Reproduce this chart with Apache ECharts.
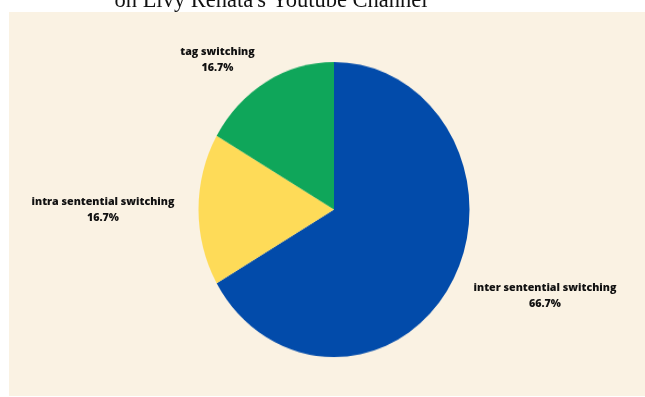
<!DOCTYPE html>
<html>
<head>
<meta charset="utf-8">
<script src="https://cdn.jsdelivr.net/npm/echarts@6/dist/echarts.min.js"></script>
<style>
  html, body { margin: 0; padding: 0; background: #ffffff; }
  #wrap { position: relative; width: 645px; height: 397px; overflow: hidden; }
  #panel { position: absolute; left: 9px; top: 12px; width: 636px; height: 384px; background: #FAF2E3; }
  #pie, #labels { position: absolute; left: 0; top: 0; width: 645px; height: 397px; }
  #pie { transform-origin: 334px 209.5px; transform: scaleY(1.0886); }
</style>
</head>
<body>
<div id="wrap">
  <div id="panel"></div>
  <div id="pie"></div>
  <div id="labels"></div>
</div>
<script>
// ---- data ----
var categories = ['inter sentential switching', 'intra sentential switching', 'tag switching'];
var counts = [4, 1, 1];
var colors = ['#024BAA', '#FEDB58', '#0FA65A'];
var titleText = "on Livy Renata's Youtube Channel";

var total = counts.reduce(function (a, b) { return a + b; }, 0);
var seriesData = categories.map(function (c, i) {
  return { name: c, value: counts[i], itemStyle: { color: colors[i] } };
});
var labelSeriesData = categories.map(function (c, i) {
  return { name: c, value: counts[i] };
});

var center = [334, 209.5];
var radius = 135.5;

// Pie layer (stretched vertically via CSS to form the oval of the reference)
var pieChart = echarts.init(document.getElementById('pie'), null, { renderer: 'canvas' });
pieChart.setOption({
  animation: false,
  backgroundColor: 'transparent',
  series: [{
    type: 'pie',
    center: center,
    radius: radius,
    startAngle: 90,
    clockwise: true,
    label: { show: false },
    labelLine: { show: false },
    itemStyle: { borderWidth: 0 },
    data: seriesData
  }]
});

// Label layer
var labelPos = [[545, 296], [103, 210], [217.5, 60]];
var labelChart = echarts.init(document.getElementById('labels'), null, { renderer: 'canvas' });
labelChart.setOption({
  animation: false,
  backgroundColor: 'transparent',
  title: {
    text: titleText,
    left: 266,
    top: -15,
    textAlign: 'center',
    textStyle: { fontFamily: 'Liberation Serif', fontSize: 22.5, fontWeight: 'normal', color: '#111111' }
  },
  series: [{
    type: 'pie',
    center: center,
    radius: radius,
    startAngle: 90,
    clockwise: true,
    silent: true,
    itemStyle: { color: 'rgba(0,0,0,0)', borderWidth: 0 },
    labelLine: { show: false },
    label: {
      show: true,
      position: 'outside',
      overflow: 'none',
      width: 300,
      formatter: function (p) {
        return '{a|' + p.name + '}\n{a|' + (p.value / total * 100).toFixed(1) + '%}';
      },
      rich: {
        a: { fontFamily: 'Open Sans', fontWeight: 800, fontSize: 10.7, color: '#111111', lineHeight: 15.5, align: 'center' }
      }
    },
    labelLayout: function (params) {
      var p = labelPos[params.dataIndex];
      return { x: p[0], y: p[1], align: 'center', verticalAlign: 'middle' };
    },
    data: labelSeriesData
  }]
});
</script>
</body>
</html>
